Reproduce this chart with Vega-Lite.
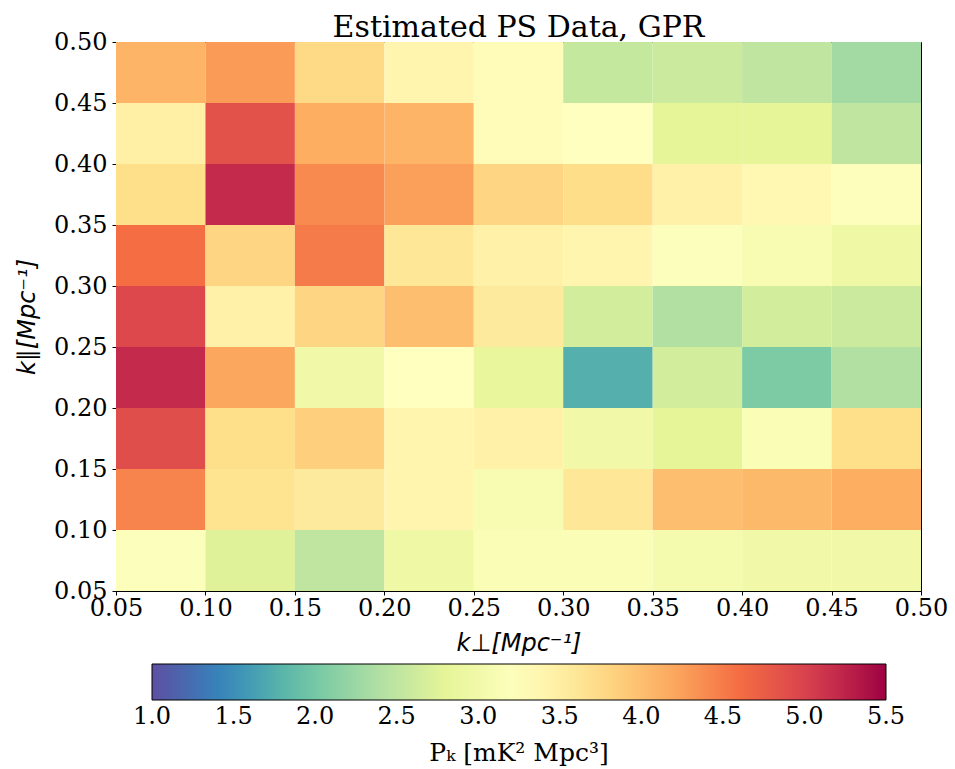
{
  "$schema": "https://vega.github.io/schema/vega-lite/v6.json",
  "autosize": {"type": "none"},
  "padding": {"left": 116, "top": 42, "right": 34, "bottom": 178},
  "width": 805,
  "height": 549,
  "background": "white",
  "title": {"text": "Estimated PS Data, GPR", "font": "DejaVu Serif", "fontSize": 30, "fontWeight": "normal", "color": "black", "anchor": "middle", "offset": -13},
  "config": {
    "view": {"stroke": "black", "strokeWidth": 1},
    "axis": {"grid": false, "domainColor": "black", "tickColor": "black", "tickSize": 4, "labelFlush": false, "labelFont": "DejaVu Serif", "labelFontSize": 24, "labelColor": "black", "titleFont": "DejaVu Sans", "titleFontStyle": "italic", "titleFontWeight": "normal", "titleFontSize": 24, "titleColor": "black"}
  },
  "data": {"values": [
    {"x":0.05,"x2":0.10,"y":0.45,"y2":0.50,"p":4.1},
    {"x":0.10,"x2":0.15,"y":0.45,"y2":0.50,"p":4.28},
    {"x":0.15,"x2":0.20,"y":0.45,"y2":0.50,"p":3.75},
    {"x":0.20,"x2":0.25,"y":0.45,"y2":0.50,"p":3.4},
    {"x":0.25,"x2":0.30,"y":0.45,"y2":0.50,"p":3.3},
    {"x":0.30,"x2":0.35,"y":0.45,"y2":0.50,"p":2.55},
    {"x":0.35,"x2":0.40,"y":0.45,"y2":0.50,"p":2.6},
    {"x":0.40,"x2":0.45,"y":0.45,"y2":0.50,"p":2.5},
    {"x":0.45,"x2":0.50,"y":0.45,"y2":0.50,"p":2.3},
    {"x":0.05,"x2":0.10,"y":0.40,"y2":0.45,"p":3.47},
    {"x":0.10,"x2":0.15,"y":0.40,"y2":0.45,"p":4.86},
    {"x":0.15,"x2":0.20,"y":0.40,"y2":0.45,"p":4.15},
    {"x":0.20,"x2":0.25,"y":0.40,"y2":0.45,"p":4.1},
    {"x":0.25,"x2":0.30,"y":0.40,"y2":0.45,"p":3.3},
    {"x":0.30,"x2":0.35,"y":0.40,"y2":0.45,"p":3.25},
    {"x":0.35,"x2":0.40,"y":0.40,"y2":0.45,"p":2.8},
    {"x":0.40,"x2":0.45,"y":0.40,"y2":0.45,"p":2.8},
    {"x":0.45,"x2":0.50,"y":0.40,"y2":0.45,"p":2.5},
    {"x":0.05,"x2":0.10,"y":0.35,"y2":0.40,"p":3.7},
    {"x":0.10,"x2":0.15,"y":0.35,"y2":0.40,"p":5.2},
    {"x":0.15,"x2":0.20,"y":0.35,"y2":0.40,"p":4.4},
    {"x":0.20,"x2":0.25,"y":0.35,"y2":0.40,"p":4.25},
    {"x":0.25,"x2":0.30,"y":0.35,"y2":0.40,"p":3.8},
    {"x":0.30,"x2":0.35,"y":0.35,"y2":0.40,"p":3.72},
    {"x":0.35,"x2":0.40,"y":0.35,"y2":0.40,"p":3.45},
    {"x":0.40,"x2":0.45,"y":0.35,"y2":0.40,"p":3.35},
    {"x":0.45,"x2":0.50,"y":0.35,"y2":0.40,"p":3.22},
    {"x":0.05,"x2":0.10,"y":0.30,"y2":0.35,"p":4.6},
    {"x":0.10,"x2":0.15,"y":0.30,"y2":0.35,"p":3.8},
    {"x":0.15,"x2":0.20,"y":0.30,"y2":0.35,"p":4.5},
    {"x":0.20,"x2":0.25,"y":0.30,"y2":0.35,"p":3.6},
    {"x":0.25,"x2":0.30,"y":0.30,"y2":0.35,"p":3.45},
    {"x":0.30,"x2":0.35,"y":0.30,"y2":0.35,"p":3.4},
    {"x":0.35,"x2":0.40,"y":0.30,"y2":0.35,"p":3.2},
    {"x":0.40,"x2":0.45,"y":0.30,"y2":0.35,"p":3.1},
    {"x":0.45,"x2":0.50,"y":0.30,"y2":0.35,"p":2.95},
    {"x":0.05,"x2":0.10,"y":0.25,"y2":0.30,"p":4.95},
    {"x":0.10,"x2":0.15,"y":0.25,"y2":0.30,"p":3.45},
    {"x":0.15,"x2":0.20,"y":0.25,"y2":0.30,"p":3.8},
    {"x":0.20,"x2":0.25,"y":0.25,"y2":0.30,"p":4.0},
    {"x":0.25,"x2":0.30,"y":0.25,"y2":0.30,"p":3.55},
    {"x":0.30,"x2":0.35,"y":0.25,"y2":0.30,"p":2.65},
    {"x":0.35,"x2":0.40,"y":0.25,"y2":0.30,"p":2.4},
    {"x":0.40,"x2":0.45,"y":0.25,"y2":0.30,"p":2.65},
    {"x":0.45,"x2":0.50,"y":0.25,"y2":0.30,"p":2.6},
    {"x":0.05,"x2":0.10,"y":0.20,"y2":0.25,"p":5.2},
    {"x":0.10,"x2":0.15,"y":0.20,"y2":0.25,"p":4.2},
    {"x":0.15,"x2":0.20,"y":0.20,"y2":0.25,"p":3.0},
    {"x":0.20,"x2":0.25,"y":0.20,"y2":0.25,"p":3.25},
    {"x":0.25,"x2":0.30,"y":0.20,"y2":0.25,"p":2.85},
    {"x":0.30,"x2":0.35,"y":0.20,"y2":0.25,"p":1.75},
    {"x":0.35,"x2":0.40,"y":0.20,"y2":0.25,"p":2.65},
    {"x":0.40,"x2":0.45,"y":0.20,"y2":0.25,"p":2.05},
    {"x":0.45,"x2":0.50,"y":0.20,"y2":0.25,"p":2.4},
    {"x":0.05,"x2":0.10,"y":0.15,"y2":0.20,"p":4.9},
    {"x":0.10,"x2":0.15,"y":0.15,"y2":0.20,"p":3.7},
    {"x":0.15,"x2":0.20,"y":0.15,"y2":0.20,"p":3.85},
    {"x":0.20,"x2":0.25,"y":0.15,"y2":0.20,"p":3.4},
    {"x":0.25,"x2":0.30,"y":0.15,"y2":0.20,"p":3.45},
    {"x":0.30,"x2":0.35,"y":0.15,"y2":0.20,"p":3.0},
    {"x":0.35,"x2":0.40,"y":0.15,"y2":0.20,"p":2.8},
    {"x":0.40,"x2":0.45,"y":0.15,"y2":0.20,"p":3.15},
    {"x":0.45,"x2":0.50,"y":0.15,"y2":0.20,"p":3.7},
    {"x":0.05,"x2":0.10,"y":0.10,"y2":0.15,"p":4.45},
    {"x":0.10,"x2":0.15,"y":0.10,"y2":0.15,"p":3.65},
    {"x":0.15,"x2":0.20,"y":0.10,"y2":0.15,"p":3.55},
    {"x":0.20,"x2":0.25,"y":0.10,"y2":0.15,"p":3.4},
    {"x":0.25,"x2":0.30,"y":0.10,"y2":0.15,"p":3.1},
    {"x":0.30,"x2":0.35,"y":0.10,"y2":0.15,"p":3.6},
    {"x":0.35,"x2":0.40,"y":0.10,"y2":0.15,"p":4.0},
    {"x":0.40,"x2":0.45,"y":0.10,"y2":0.15,"p":4.05},
    {"x":0.45,"x2":0.50,"y":0.10,"y2":0.15,"p":4.15},
    {"x":0.05,"x2":0.10,"y":0.05,"y2":0.10,"p":3.2},
    {"x":0.10,"x2":0.15,"y":0.05,"y2":0.10,"p":2.75},
    {"x":0.15,"x2":0.20,"y":0.05,"y2":0.10,"p":2.5},
    {"x":0.20,"x2":0.25,"y":0.05,"y2":0.10,"p":2.95},
    {"x":0.25,"x2":0.30,"y":0.05,"y2":0.10,"p":3.15},
    {"x":0.30,"x2":0.35,"y":0.05,"y2":0.10,"p":3.15},
    {"x":0.35,"x2":0.40,"y":0.05,"y2":0.10,"p":3.05},
    {"x":0.40,"x2":0.45,"y":0.05,"y2":0.10,"p":3.0},
    {"x":0.45,"x2":0.50,"y":0.05,"y2":0.10,"p":3.0}
  ]},
  "mark": {"type": "rect", "strokeWidth": 0},
  "encoding": {
    "x": {"field": "x", "type": "quantitative", "scale": {"domain": [0.05, 0.5], "nice": false, "zero": false},
      "axis": {"values": [0.05,0.10,0.15,0.20,0.25,0.30,0.35,0.40,0.45,0.50], "format": ".2f", "title": "k⊥[Mpc⁻¹]", "labelPadding": 1, "titlePadding": 11}},
    "x2": {"field": "x2"},
    "y": {"field": "y", "type": "quantitative", "scale": {"domain": [0.05, 0.5], "nice": false, "zero": false},
      "axis": {"values": [0.05,0.10,0.15,0.20,0.25,0.30,0.35,0.40,0.45,0.50], "format": ".2f", "title": "k∥[Mpc⁻¹]", "labelPadding": 5, "titlePadding": 14}},
    "y2": {"field": "y2"},
    "color": {"field": "p", "type": "quantitative",
      "scale": {"type": "linear", "domain": [1.0, 1.45, 1.9, 2.35, 2.8, 3.25, 3.7, 4.15, 4.6, 5.05, 5.5],
        "range": ["#5e4fa2", "#3288bd", "#66c2a5", "#abdda4", "#e6f598", "#ffffbf", "#fee08b", "#fdae61", "#f46d43", "#d53e4f", "#9e0142"],
        "interpolate": "rgb", "clamp": true},
      "legend": {"orient": "none", "direction": "horizontal", "legendX": 36, "legendY": 622,
        "gradientLength": 734, "gradientThickness": 36, "gradientStrokeColor": "black", "gradientStrokeWidth": 1,
        "values": [1.0,1.5,2.0,2.5,3.0,3.5,4.0,4.5,5.0,5.5], "format": ".1f",
        "labelFont": "DejaVu Serif", "labelFontSize": 24, "labelColor": "black", "labelOffset": 5, "labelOverlap": false,
        "encode": {"labels": {"enter": {"align": {"value": "center"}}, "update": {"align": {"value": "center"}}}},
        "title": "Pₖ [mK² Mpc³]", "titleOrient": "bottom", "titleAnchor": "middle", "titleFont": "DejaVu Serif", "titleFontSize": 25, "titleFontWeight": "normal", "titleColor": "black", "titlePadding": 12}}
  }
}
